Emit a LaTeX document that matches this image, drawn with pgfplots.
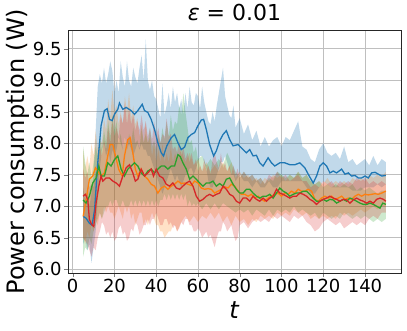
\documentclass[border=0pt]{standalone}
\usepackage{pgfplots}
\pgfplotsset{compat=1.18}
\usepackage{pgfplotstable}
\usepgfplotslibrary{fillbetween}
\usepackage{fontspec}
\setmainfont{DejaVu Sans}

\definecolor{tblue}{HTML}{1F77B4}
\definecolor{torange}{HTML}{FF7F0E}
\definecolor{tgreen}{HTML}{2CA02C}
\definecolor{tred}{HTML}{D62728}

% mean curves
\pgfplotstableread{
t v
5 6.84
6.4 6.81
8 6.73
9.3 6.70
10.5 6.95
12 7.69
13.6 8.28
15.2 8.52
16.5 8.55
17.6 8.38
18.9 8.36
20 8.46
21.6 8.54
22.4 8.64
24 8.54
25.6 8.57
28 8.52
29.6 8.46
31.2 8.52
33.3 8.62
34.4 8.52
36 8.49
37.6 8.38
39.2 8.22
40.8 8.01
42.4 7.85
43.5 7.80
45.1 7.96
47.2 8.09
48.8 8.14
50.4 8.01
52 7.90
53.6 7.94
55.2 8.09
56.8 8.14
58.4 8.17
60 8.28
61.6 8.37
62.7 8.38
64 8.22
65.6 7.98
67.5 7.80
68.8 7.88
70.4 8.04
72 8.14
73.6 8.20
75.2 8.06
76.8 7.96
79.2 7.98
81.6 7.90
83.2 7.85
84.8 7.90
86.4 7.80
88 7.81
89.6 7.69
91.2 7.64
93.6 7.77
95.2 7.69
96.8 7.64
99.2 7.69
101.6 7.69
104 7.66
106.4 7.66
108.8 7.69
111.2 7.61
113.3 7.48
115.2 7.37
116.8 7.48
118.4 7.64
120 7.69
121.6 7.64
123.2 7.53
124.8 7.56
126.4 7.53
128.8 7.59
130.4 7.51
132 7.53
133.6 7.48
135.2 7.49
136.8 7.45
138.4 7.45
140 7.48
141.6 7.45
143.2 7.53
144.8 7.54
146.4 7.51
148 7.48
150 7.49
}\meanblue

\pgfplotstableread{
t v
5 6.84
6.4 7.10
8 7.43
9.6 7.48
10.9 7.61
12 7.56
13.6 7.48
15.2 7.53
16.8 7.80
17.9 7.98
19.2 7.98
20.5 7.80
22 7.59
23.7 7.48
24.8 7.80
26.4 8.06
27.5 8.09
28.8 7.85
30 7.59
31.2 7.48
32.8 7.59
34.4 7.48
36 7.43
37.6 7.35
39.2 7.32
40.8 7.21
42.4 7.29
44 7.32
45.6 7.27
47.2 7.32
48.8 7.35
50.4 7.40
52 7.36
53.6 7.37
55.2 7.35
56.8 7.33
58.4 7.40
60 7.37
61.6 7.29
63.2 7.27
64.8 7.28
66.4 7.27
68 7.21
69.6 7.24
71.2 7.27
72.8 7.31
74.4 7.29
76 7.35
77.6 7.32
79.2 7.24
80.8 7.19
82.4 7.19
84 7.16
85.6 7.19
87.2 7.13
88.8 7.16
90.4 7.11
92 7.08
93.6 7.13
95.2 7.16
96.8 7.19
98.4 7.21
100 7.16
101.6 7.21
103.2 7.19
104.8 7.24
106.4 7.21
108 7.27
109.6 7.24
111.2 7.24
112.8 7.27
114.4 7.24
116 7.11
117.6 7.08
119.2 7.13
120.8 7.16
122.4 7.13
124 7.16
125.6 7.11
127.2 7.13
128.8 7.16
130.4 7.11
132 7.13
133.6 7.11
135.2 7.16
136.8 7.19
138.4 7.16
140 7.19
141.6 7.18
143.2 7.19
144.8 7.20
146.4 7.19
148 7.21
150 7.24
}\meanorange

\pgfplotstableread{
t v
5 7.10
6.4 7.05
8 7.16
9.6 7.37
11.2 7.45
12.5 7.64
13.6 7.48
15.2 7.48
16.8 7.69
18.4 7.64
20 7.74
21.6 7.80
23.2 7.59
24.8 7.48
26.4 7.59
28 7.64
29.6 7.69
31.2 7.64
32.8 7.53
34.4 7.48
36 7.56
37.6 7.59
39.2 7.53
40.8 7.59
42.4 7.64
44 7.64
45.6 7.59
47.2 7.64
48.8 7.64
50.4 7.82
51.5 7.79
52.8 7.69
54.4 7.59
56 7.43
57.6 7.48
59.2 7.43
60.8 7.37
62.4 7.32
64 7.37
65.6 7.37
67.2 7.40
68.8 7.32
70.4 7.36
72 7.32
73.6 7.43
75.2 7.45
76.8 7.35
78.4 7.27
80 7.21
81.6 7.21
83.2 7.27
84.8 7.27
86.4 7.21
88 7.16
89.6 7.13
91.2 7.16
92.8 7.16
94.4 7.19
96 7.13
97.6 7.21
99.2 7.29
100.8 7.24
102.4 7.21
104 7.16
105.6 7.19
107.2 7.21
108.8 7.21
110.4 7.24
112 7.24
113.6 7.19
115.2 7.13
116.8 7.08
118.4 7.08
120 7.11
121.6 7.08
123.2 7.11
124.8 7.10
126.4 7.05
128 7.08
129.6 7.11
131.2 7.08
132.8 7.13
134.4 7.11
136 7.08
137.6 7.05
139.2 7.03
140.8 7.03
142.4 7.05
144 7.03
145.6 7.00
147.2 6.97
148.5 7.05
150 7.03
}\meangreen

\pgfplotstableread{
t v
5 7.16
6.1 7.19
7.2 7.11
8 6.79
9.1 6.71
10.1 6.68
11.2 7.05
12.5 7.32
13.6 7.48
14.4 7.40
16 7.45
17.6 7.45
19.2 7.40
20.8 7.37
22.4 7.32
24 7.48
25.6 7.61
27.2 7.66
28.8 7.53
30 7.40
31.2 7.43
32.8 7.59
34.4 7.48
36 7.53
37.6 7.59
38.7 7.48
40 7.59
41.6 7.48
43.2 7.45
44.8 7.35
46.4 7.32
48 7.37
49.6 7.29
51.2 7.27
52.8 7.32
54.4 7.37
56 7.40
57.6 7.32
59.2 7.16
60.8 7.08
62.4 7.11
64 7.16
65.6 7.19
67.2 7.16
68.8 7.19
70.4 7.21
72 7.32
73.6 7.27
75.2 7.19
76.8 7.16
78.4 7.08
80 7.05
81.6 7.13
83.2 7.13
84.8 7.08
86.4 7.16
88 7.11
89.6 7.08
91.2 7.13
92.8 7.08
94.4 7.13
96 7.16
97.6 7.27
99.2 7.21
100.8 7.19
102.4 7.16
104 7.13
105.6 7.16
107.2 7.16
108.8 7.21
110.4 7.19
112 7.16
113.6 7.11
115.2 7.08
116.8 7.03
118.4 7.08
120 7.11
121.6 7.13
123.2 7.16
124.8 7.13
126.4 7.11
128 7.08
129.6 7.11
131.2 7.10
132.8 7.05
134.4 7.10
136 7.13
137.6 7.10
139.2 7.08
140.8 7.05
142.4 7.08
144 7.05
145.6 7.11
147.2 7.13
148.8 7.11
150 7.08
}\meanred

% spread bands
\pgfplotstableread{
t lo hi
5 6.4 7.3
6 6.5 7.1
7 6.3 7.25
8 6.4 7.0
9 6.1 7.2
10 6.35 7.5
11 6.6 8.2
12 7.1 8.9
13 7.6 9.1
14 7.9 8.95
15 8.0 9.2
16 7.8 8.95
17 7.9 9.1
18 7.7 9.3
19 7.9 9.15
20 7.8 8.8
21 7.9 9.0
22 8.1 8.8
23 8.0 9.3
24 7.9 9.05
25 8.1 8.9
26 7.9 9.3
27 8.0 9.0
28 7.9 8.9
29 7.8 9.2
30 7.9 9.05
31 8.0 8.95
32 7.9 9.2
33 8.0 9.4
34 7.9 9.0
35 7.9 9.65
36 7.8 9.0
37 7.8 8.85
38 7.7 9.0
39 7.6 8.75
40 7.5 8.7
41 7.4 8.55
42 7.3 8.4
43 7.2 8.95
44 7.3 8.45
45 7.4 8.6
46 7.5 8.8
47 7.6 8.55
48 7.5 8.9
49 7.4 8.65
50 7.5 8.8
51 7.4 8.55
52 7.3 8.7
53 7.4 8.45
54 7.5 8.8
55 7.5 8.55
56 7.6 8.9
57 7.6 8.65
58 7.5 8.6
59 7.6 8.8
60 7.7 8.75
61 7.8 8.55
62 7.8 8.9
63 7.7 8.65
64 7.6 8.5
65 7.4 8.35
66 7.3 8.3
67 7.3 8.5
68 7.4 8.35
69 7.5 8.6
70 7.6 8.8
71 7.7 9.0
72 7.7 9.2
73 7.8 8.75
74 7.7 8.6
75 7.6 8.45
76 7.5 8.4
77 7.5 8.6
78 7.4 8.25
80 7.5 8.4
82 7.4 8.15
84 7.4 8.3
86 7.3 8.05
88 7.4 8.2
90 7.3 7.95
92 7.3 8.1
94 7.4 7.95
96 7.3 8.05
98 7.3 8.1
100 7.4 7.95
102 7.4 8.1
104 7.4 8.05
106 7.4 8.2
108 7.4 8.35
110 7.4 7.95
112 7.3 7.9
114 7.2 7.75
116 7.2 7.7
118 7.3 7.9
120 7.4 8.0
122 7.35 7.85
124 7.3 7.8
126 7.3 7.85
128 7.3 7.75
130 7.3 7.95
132 7.3 7.7
134 7.25 7.75
136 7.25 7.65
138 7.25 7.7
140 7.3 7.75
142 7.3 7.65
144 7.3 7.8
146 7.35 7.65
148 7.3 7.75
150 7.35 7.7
}\bandblue

\pgfplotstableread{
t lo hi
5 6.5 7.9
6 6.4 7.6
7 6.6 7.8
8 6.5 7.6
9 6.7 8.0
10 6.6 7.8
11 6.8 8.2
12 6.7 7.9
13 6.9 8.1
14 6.8 8.0
15 7.0 8.4
16 6.9 8.2
17 7.0 8.7
18 6.9 8.4
19 6.9 8.85
20 6.8 8.5
21 6.9 8.6
22 7.0 8.3
23 6.9 8.5
24 6.8 8.3
25 7.0 8.75
26 6.9 8.5
27 7.0 8.8
28 6.8 8.4
29 6.9 8.6
30 6.7 8.3
31 6.8 8.4
32 6.9 8.1
33 6.9 8.3
34 6.7 8.0
35 6.8 8.35
36 6.7 8.0
37 6.8 8.1
38 6.9 7.8
39 6.8 8.0
40 6.7 7.7
41 6.7 7.9
42 6.6 7.7
43 6.6 8.0
44 6.5 7.7
45 6.55 7.85
46 6.6 7.7
47 6.6 7.95
48 6.7 7.7
49 6.7 7.85
50 6.6 7.75
52 6.75 7.9
54 6.85 7.7
56 6.75 7.85
58 6.85 7.65
60 6.75 7.75
62 6.85 7.55
64 6.8 7.7
66 6.9 7.55
68 6.8 7.65
70 6.9 7.55
72 6.75 7.7
74 6.85 7.55
76 6.7 7.7
78 6.85 7.45
80 6.75 7.55
82 6.8 7.45
84 6.7 7.5
86 6.8 7.4
88 6.75 7.45
90 6.85 7.35
92 6.8 7.45
94 6.85 7.4
96 6.8 7.5
98 6.9 7.45
100 6.85 7.5
102 6.9 7.4
104 6.85 7.5
106 6.95 7.45
108 6.9 7.55
110 6.85 7.45
112 6.9 7.5
114 6.8 7.4
116 6.85 7.35
118 6.8 7.4
120 6.85 7.35
122 6.8 7.45
124 6.85 7.35
126 6.8 7.4
128 6.9 7.35
130 6.85 7.4
132 6.9 7.35
134 6.85 7.45
136 6.9 7.4
138 6.95 7.45
140 6.9 7.4
142 6.95 7.5
144 7.0 7.45
146 6.95 7.5
148 7.0 7.45
150 7.0 7.55
}\bandorange

\pgfplotstableread{
t lo hi
5 6.2 7.95
6 6.35 7.7
7 6.3 7.5
8 6.5 7.7
9 6.4 7.45
10 6.6 7.7
11 6.7 7.95
12 6.8 7.8
13 6.9 8.1
14 6.8 7.9
15 6.9 8.2
16 7.0 8.0
17 7.0 8.35
18 7.1 8.1
19 7.0 8.45
20 7.1 8.2
21 7.1 8.35
22 7.0 8.0
23 7.0 8.15
24 7.1 7.9
25 7.0 8.05
26 7.0 7.9
27 7.0 8.15
28 7.1 8.0
29 7.0 8.25
30 7.1 8.0
31 7.0 8.05
32 7.1 7.9
33 7.0 8.25
34 7.1 8.0
35 7.0 8.15
36 7.1 8.0
37 7.0 8.25
38 7.1 7.95
39 7.0 8.05
40 7.1 7.9
41 7.0 8.15
42 7.1 8.0
43 7.1 8.25
44 7.2 8.05
45 7.1 8.35
46 7.2 8.1
47 7.1 8.45
48 7.2 8.2
49 7.1 8.35
50 7.2 8.3
51 7.1 8.6
52 7.2 8.45
53 7.1 8.8
54 7.2 8.5
55 7.0 8.25
56 7.1 8.0
57 7.0 8.05
58 7.05 7.85
59 7.0 7.95
60 7.05 7.75
62 6.95 7.8
64 7.05 7.65
66 6.95 7.75
68 7.05 7.65
70 6.95 7.75
72 7.05 7.65
74 7.0 7.85
76 6.95 7.7
78 6.9 7.55
80 6.95 7.45
82 6.9 7.55
84 6.95 7.45
86 6.85 7.5
88 6.95 7.4
90 6.9 7.45
92 6.85 7.35
94 6.95 7.45
96 6.85 7.4
98 6.95 7.55
100 6.9 7.5
102 6.95 7.45
104 6.9 7.5
106 7.0 7.45
108 6.9 7.55
110 6.95 7.45
112 6.9 7.5
114 6.85 7.4
116 6.9 7.35
118 6.8 7.4
120 6.9 7.3
122 6.85 7.35
124 6.8 7.3
126 6.85 7.35
128 6.8 7.3
130 6.9 7.35
132 6.85 7.3
134 6.8 7.35
136 6.85 7.25
138 6.8 7.3
140 6.85 7.25
142 6.8 7.3
144 6.75 7.25
146 6.8 7.2
148 6.75 7.25
150 6.8 7.25
}\bandgreen

\pgfplotstableread{
t lo hi
5 6.5 7.6
6 6.45 7.45
7 6.4 7.55
8 6.3 7.3
9 6.2 7.35
10 6.35 7.3
11 6.3 7.55
12 6.5 7.7
13 6.6 7.95
14 6.75 7.8
15 6.7 8.05
16 6.55 7.9
17 6.6 8.25
18 6.5 8.0
19 6.6 8.35
20 6.45 8.1
21 6.5 8.25
22 6.65 8.1
23 6.7 8.45
24 6.55 8.3
25 6.6 8.65
26 6.45 8.3
27 6.5 8.55
28 6.65 8.3
29 6.6 8.45
30 6.75 8.2
31 6.7 8.35
32 6.55 8.2
33 6.6 8.45
34 6.7 8.2
35 6.7 8.35
36 6.8 8.1
37 6.7 8.25
38 6.8 8.05
39 6.8 8.35
40 6.9 8.1
41 6.8 8.25
42 6.7 8.0
43 6.7 8.15
44 6.8 8.1
45 6.8 8.4
46 6.7 8.1
47 6.75 8.15
48 6.65 7.9
49 6.7 7.95
50 6.6 7.85
51 6.65 8.05
52 6.75 7.8
53 6.7 7.95
54 6.8 7.75
55 6.8 7.85
56 6.7 7.7
57 6.7 7.85
58 6.6 7.65
59 6.6 7.75
60 6.65 7.55
61 6.6 7.65
62 6.5 7.55
63 6.55 7.75
64 6.6 7.55
65 6.5 7.65
66 6.55 7.5
67 6.45 7.75
68 6.35 7.85
69 6.5 7.7
70 6.6 7.6
71 6.6 7.85
72 6.75 7.6
73 6.7 7.7
74 6.6 7.55
75 6.65 7.65
76 6.7 7.5
77 6.55 7.65
78 6.45 7.5
79 6.5 7.6
80 6.7 7.45
82 6.75 7.55
84 6.65 7.45
86 6.75 7.5
88 6.8 7.4
90 6.75 7.45
92 6.8 7.35
94 6.75 7.5
96 6.85 7.45
98 6.8 7.55
100 6.85 7.45
102 6.8 7.5
104 6.75 7.4
106 6.85 7.45
108 6.8 7.5
110 6.85 7.4
112 6.75 7.4
114 6.7 7.3
116 6.6 7.35
118 6.65 7.3
120 6.75 7.4
122 6.8 7.35
124 6.75 7.4
126 6.7 7.3
128 6.75 7.4
130 6.65 7.35
132 6.7 7.4
134 6.75 7.35
136 6.7 7.45
138 6.75 7.4
140 6.7 7.45
142 6.8 7.35
144 6.85 7.4
146 6.8 7.35
148 6.9 7.4
150 6.9 7.35
}\bandred

\begin{document}
\begin{tikzpicture}
\begin{axis}[
    name=ax,
    width=333pt, height=243pt,
    scale only axis,
    xmin=-2.25, xmax=157.25,
    ymin=5.94, ymax=9.8,
    xtick={0,20,...,140},
    ytick={6,6.5,...,9.5},
    yticklabel style={/pgf/number format/fixed, /pgf/number format/fixed zerofill, /pgf/number format/precision=1, xshift=1pt},
    xticklabel style={yshift=1pt},
    /pgf/number format/assume math mode=true,
    tick label style={font=\fontsize{18}{21}\selectfont},
    tick align=outside, tick pos=left,
    major tick length=4pt,
    grid=major,
    grid style={line width=0.8pt, color=black!25},
    axis line style={line width=0.8pt, black!85},
    xlabel={\textit{t}},
    xlabel style={font=\fontsize{24}{28}\selectfont, inner sep=0pt,
        at={(axis description cs:0.5,0)}, anchor=base, yshift=-45pt},
    ylabel={Power consumption (W)},
    ylabel style={font=\fontsize{24}{28}\selectfont, inner sep=0pt,
        at={(axis description cs:0,0.5)}, anchor=base, yshift=43pt},
    title={\textit{ε} = 0.01},
    title style={font=\fontsize{22}{26}\selectfont, inner sep=0pt,
        at={(axis description cs:0.5,1)}, anchor=base, yshift=4pt},
]
% blue
\addplot[name path=bU, draw=none, forget plot] table[x=t, y=hi] {\bandblue};
\addplot[name path=bL, draw=none, forget plot] table[x=t, y=lo] {\bandblue};
\addplot[tblue, fill opacity=0.28, draw=none] fill between[of=bU and bL];
\addplot[tblue, line width=1.3pt] table[x=t, y=v] {\meanblue};
% orange
\addplot[name path=oU, draw=none, forget plot] table[x=t, y=hi] {\bandorange};
\addplot[name path=oL, draw=none, forget plot] table[x=t, y=lo] {\bandorange};
\addplot[torange, fill opacity=0.23, draw=none] fill between[of=oU and oL];
\addplot[torange, line width=1.3pt] table[x=t, y=v] {\meanorange};
% green
\addplot[name path=gU, draw=none, forget plot] table[x=t, y=hi] {\bandgreen};
\addplot[name path=gL, draw=none, forget plot] table[x=t, y=lo] {\bandgreen};
\addplot[tgreen, fill opacity=0.23, draw=none] fill between[of=gU and gL];
\addplot[tgreen, line width=1.3pt] table[x=t, y=v] {\meangreen};
% red
\addplot[name path=rU, draw=none, forget plot] table[x=t, y=hi] {\bandred};
\addplot[name path=rL, draw=none, forget plot] table[x=t, y=lo] {\bandred};
\addplot[tred, fill opacity=0.23, draw=none] fill between[of=rU and rL];
\addplot[tred, line width=1.3pt] table[x=t, y=v] {\meanred};
\end{axis}
% fix the page to the reference frame around the axis
\pgfresetboundingbox
\path[use as bounding box] ([shift={(-68pt,-57pt)}]ax.south west) rectangle ([shift={(6pt,30pt)}]ax.north east);
\end{tikzpicture}
\end{document}
